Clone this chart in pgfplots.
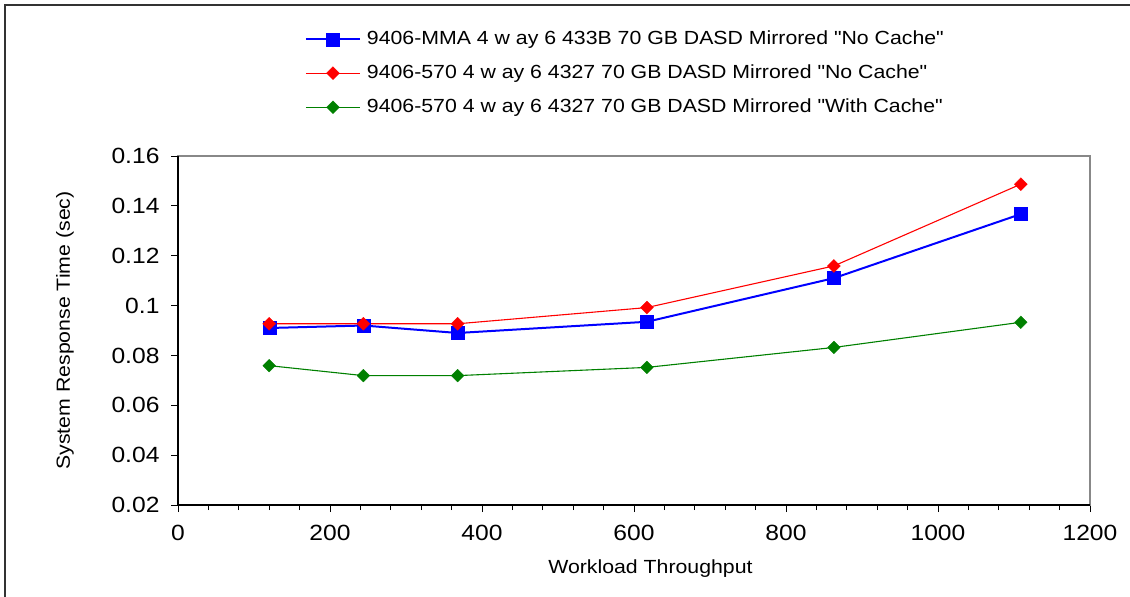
\documentclass[border=0pt]{standalone}
\usepackage{fontspec}
\setmainfont{Liberation Sans}[FakeStretch=1.12]
\newfontfamily\qf{Liberation Sans}[FakeStretch=1.12]
\usepackage{pgfplots}
\pgfplotsset{compat=1.18}
\definecolor{frm}{HTML}{333333}
\definecolor{boxgray}{HTML}{888888}
\newcommand{\q}{{\qf"}}
\begin{document}
\begin{tikzpicture}
\useasboundingbox (-178pt,-92pt) rectangle (952pt,505pt);
\draw[line width=2pt, color=frm] (-172.5pt,-95pt) -- (-172.5pt,500pt) -- (955pt,500pt);
\begin{axis}[
  scale only axis,
  width=912pt, height=349pt,
  xmin=0, xmax=1200, ymin=0.02, ymax=0.16,
  xtick={0,200,...,1200},
  minor x tick num=4,
  ytick={0.02,0.04,...,0.161},
  tick align=outside,
  major tick length=7pt,
  minor tick length=5pt,
  xtick pos=bottom, ytick pos=left,
  tick style={black, line width=0.8pt},
  axis line style={boxgray, line width=1.6pt},
  /pgf/number format/assume math mode=true,
  /pgf/number format/fixed,
  /pgf/number format/precision=2,
  /pgf/number format/1000 sep={},
  ticklabel style={font=\fontsize{22}{26}\selectfont},
  xticklabel style={yshift=-10pt},
  yticklabel style={xshift=-8pt},
  xlabel={Workload Throughput},
  ylabel={System Response Time (sec)},
  every axis x label/.style={at={(axis description cs:0.518,-0.183)}, anchor=center, font=\fontsize{19}{22}\selectfont},
  every axis y label/.style={at={(axis description cs:-0.124,0.5)}, rotate=90, anchor=center, font=\fontsize{19}{22}\selectfont},
  legend style={draw=none, fill=none, at={(axis description cs:0.139,1.361)}, anchor=north west,
    inner sep=0pt, row sep=16pt, font=\fontsize{19}{22}\selectfont,
    nodes={inner sep=0pt, text height=14pt, text depth=4pt, anchor=west},
    /tikz/every odd column/.append style={column sep=6pt}},
  legend cell align=left,
  legend image code/.code={\draw[mark repeat=2, mark phase=2, #1] plot coordinates {(0pt,0pt) (27pt,0pt) (54pt,0pt)};},
  clip=false,
]
\addplot[color=blue, line width=2pt, mark=square*, mark size=6.5pt, mark options={solid, line width=0.3pt, fill=blue}]
  coordinates {(120,0.0910) (244,0.0920) (368,0.0890) (617,0.0935) (863,0.1110) (1109,0.1367)};
\addlegendentry{9406-MMA 4 w ay 6 433B 70 GB DASD Mirrored \q No Cache\q}
\addplot[color=red, line width=1.1pt, mark=square*, mark size=4.6pt, mark options={solid, rotate=45, line width=0.3pt, fill=red}]
  coordinates {(120,0.0927) (244,0.0927) (368,0.0927) (617,0.0992) (863,0.1159) (1109,0.1487)};
\addlegendentry{9406-570 4 w ay 6 4327 70 GB DASD Mirrored \q No Cache\q}
\addplot[color={rgb,255:red,0;green,128;blue,0}, line width=1.1pt, mark=square*, mark size=4.5pt, mark options={solid, rotate=45, line width=0.3pt, fill={rgb,255:red,0;green,128;blue,0}}]
  coordinates {(120,0.0759) (244,0.0719) (368,0.0719) (617,0.0752) (863,0.0832) (1109,0.0933)};
\addlegendentry{9406-570 4 w ay 6 4327 70 GB DASD Mirrored \q With Cache\q}
\draw[black, line width=1.6pt] (rel axis cs:0,1) -- (rel axis cs:0,0) -- (rel axis cs:1,0);
\end{axis}
\end{tikzpicture}
\end{document}
